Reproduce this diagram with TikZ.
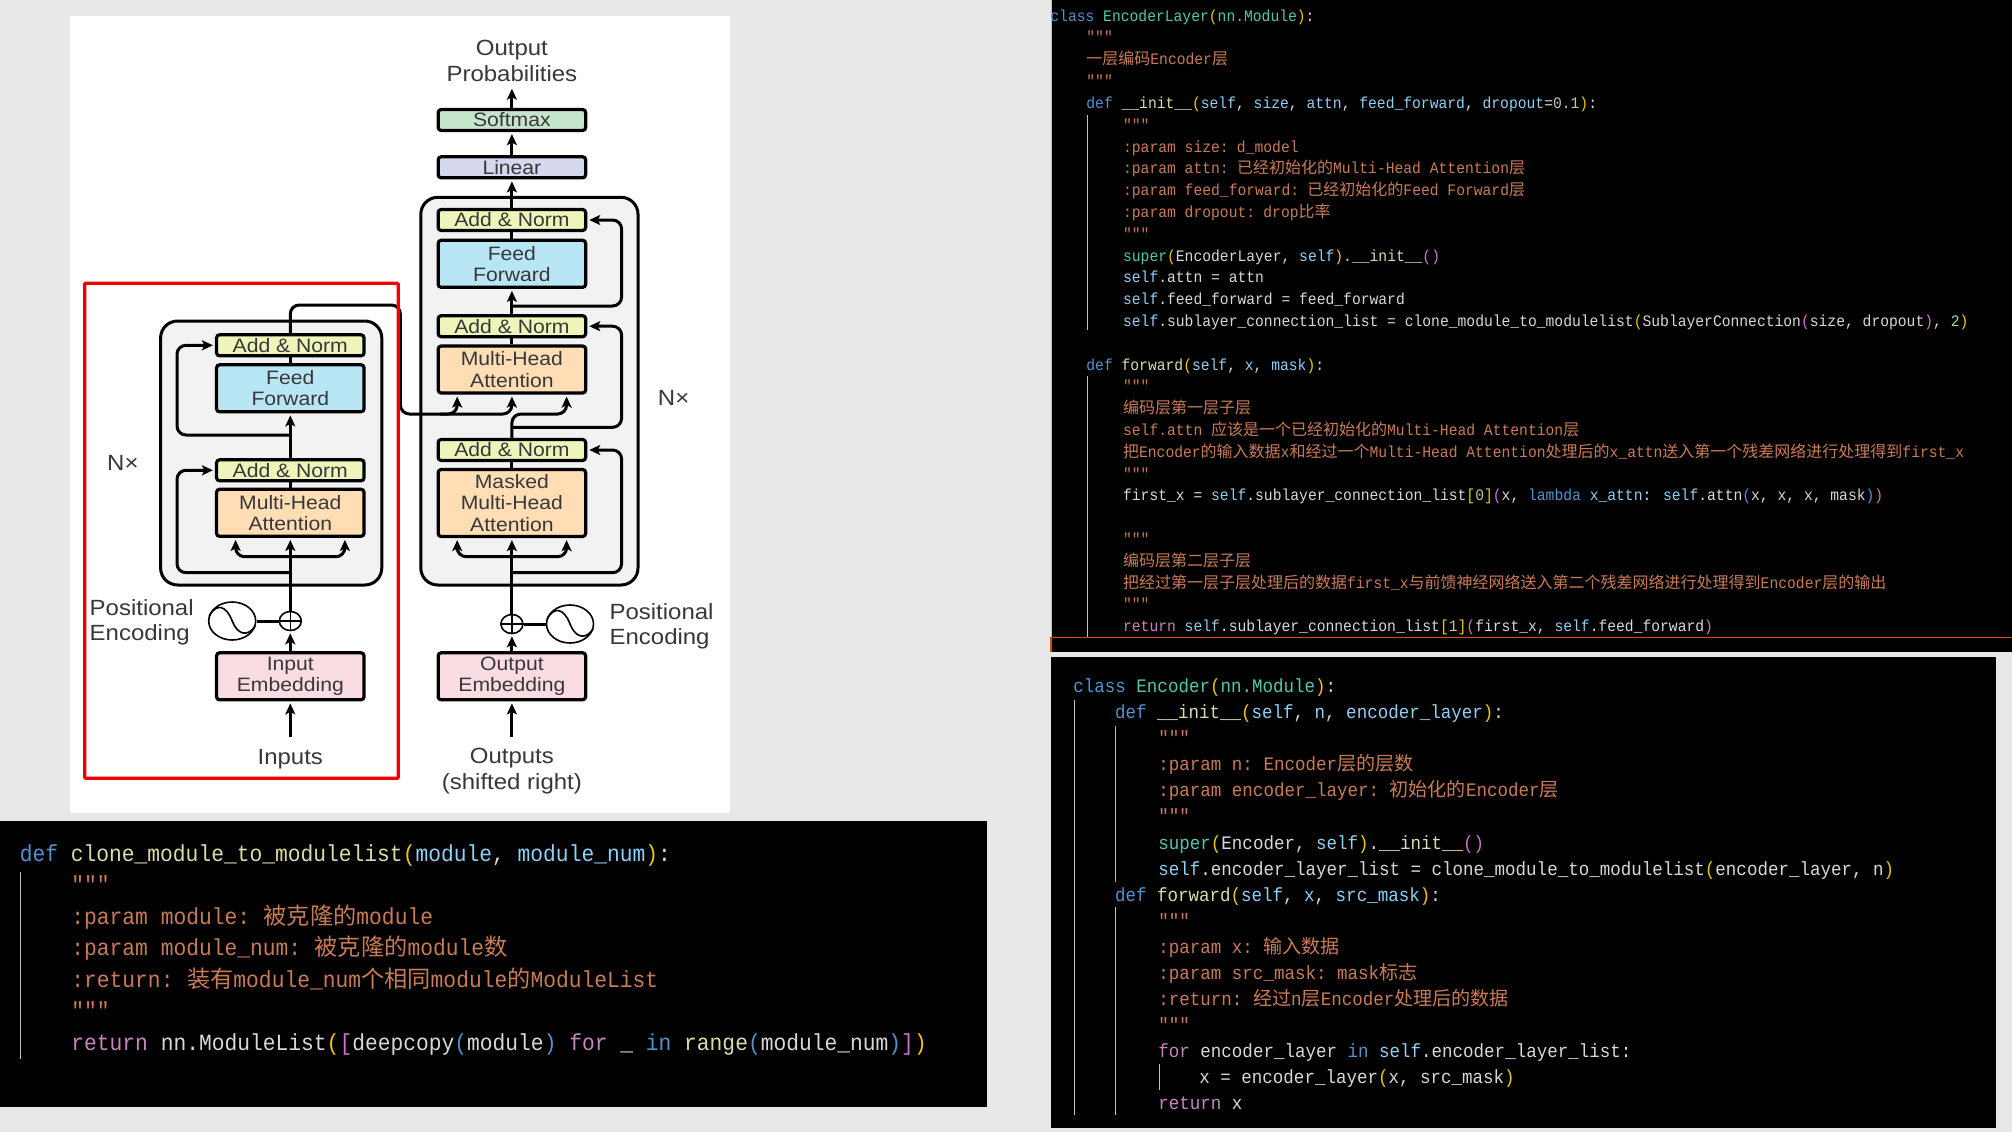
\documentclass[tikz,border=0pt]{standalone}
\usepackage{fontspec}
\usetikzlibrary{arrows.meta,shapes.geometric}
\newfontfamily\labelfont[FakeStretch=1.09]{Liberation Sans}
\newfontfamily\codefont[FakeStretch=0.917]{Liberation Mono}
\newfontfamily\cjkfont{Noto Sans CJK SC}
\definecolor{pagebg}{HTML}{E8E8E8}
\definecolor{codetext}{HTML}{D8D8D8}
\definecolor{kwblue}{HTML}{4F93CE}
\definecolor{fnyellow}{HTML}{DCDCAA}
\definecolor{paramblue}{HTML}{8FD0F5}
\definecolor{docorange}{HTML}{C97B57}
\definecolor{ctlpink}{HTML}{C586C0}
\definecolor{typegreen}{HTML}{4EC9B0}
\definecolor{gold}{HTML}{F0C800}
\definecolor{orchid}{HTML}{D070D0}
\definecolor{numgreen}{HTML}{B5CEA8}
\definecolor{softmaxfill}{HTML}{C6E5CD}
\definecolor{linearfill}{HTML}{D6D8EE}
\definecolor{addnormfill}{HTML}{EFF5BA}
\definecolor{feedfill}{HTML}{B8E6F5}
\definecolor{attnfill}{HTML}{FFDDB5}
\definecolor{embedfill}{HTML}{FADCE3}
\definecolor{stackfill}{HTML}{F2F2F3}
\newcommand\Kw[1]{\textcolor{kwblue}{#1}}
\newcommand\Fn[1]{\textcolor{fnyellow}{#1}}
\newcommand\Pm[1]{\textcolor{paramblue}{#1}}
\newcommand\Dc[1]{\textcolor{docorange}{#1}}
\newcommand\Ct[1]{\textcolor{ctlpink}{#1}}
\newcommand\Ty[1]{\textcolor{typegreen}{#1}}
\newcommand\Go[1]{\textcolor{gold}{#1}}
\newcommand\Or[1]{\textcolor{orchid}{#1}}
\newcommand\Nm[1]{\textcolor{numgreen}{#1}}
\newcommand\Zh[1]{{\cjkfont #1}}
% tightens the gap after the colon of a docstring field
\newcommand\Fld{\kern-3.5pt\relax}
\tikzset{
  blockbox/.style={draw=black,line width=3.2pt,rounded corners=3pt,minimum width=147.5pt,inner sep=0pt,align=center,
    text=black!78,font=\labelfont\fontsize{19.4}{21.3}\selectfont},
  stackbox/.style={draw=black,line width=3pt,rounded corners=17pt,fill=stackfill},
  caption/.style={inner sep=0pt,align=center,text=black!78,font=\labelfont\fontsize{22}{25.2}\selectfont},
  conn/.style={draw=black,line width=3pt,rounded corners=9pt},
  tipped/.style={conn,-{Stealth[length=11pt,width=10pt,inset=2.5pt]},shorten >=2pt},
  bothtip/.style={conn,{Stealth[length=11pt,width=10pt,inset=2.5pt]}-{Stealth[length=11pt,width=10pt,inset=2.5pt]},shorten >=2pt,shorten <=2pt},
  addcircle/.style={ellipse,draw=black,line width=1.6pt,fill=white,minimum width=22pt,minimum height=19pt,inner sep=0pt},
  wavecircle/.style={ellipse,draw=black,line width=1.6pt,fill=white,minimum width=47pt,minimum height=38pt,inner sep=0pt},
  guide/.style={draw=white!75!black,line width=1pt},
  codeline/.style={anchor=west,inner sep=0pt,text=codetext,xshift=-0.8pt,yshift=-1.2pt},
  codesw/.style={codeline,text height=16.2pt,text depth=4.6pt,font=\codefont\fontsize{23.2}{23.2}\selectfont},
  codene/.style={codeline,text height=11.2pt,text depth=3.2pt,font=\codefont\fontsize{16}{16}\selectfont},
  codese/.style={codeline,text height=13.4pt,text depth=3.8pt,font=\codefont\fontsize{19.1}{19.1}\selectfont},
}
\begin{document}
\begin{tikzpicture}[x=1pt,y=-1pt]
\useasboundingbox (0,0) rectangle (2012,1132);
\fill[pagebg] (0,0) rectangle (2012,1132);
\fill[white] (69.5,15.7) rectangle (730.4,812.7);

% stacks behind the blocks
\draw[stackbox] (160.6,321) rectangle (381.8,585);
\draw[stackbox] (420.8,197.3) rectangle (638,585);

% decoder blocks
\node[blockbox,fill=softmaxfill,minimum height=21pt] (softmax) at (511.9,120) {Softmax};
\node[blockbox,fill=linearfill,minimum height=21pt] (linear) at (511.9,167.3) {Linear};
\node[blockbox,fill=addnormfill,minimum height=21pt] (dan1) at (511.9,220) {Add \& Norm};
\node[blockbox,fill=feedfill,minimum height=47pt] (dff) at (511.9,263.8) {Feed\\Forward};
\node[blockbox,fill=addnormfill,minimum height=21pt] (dan2) at (511.9,326.2) {Add \& Norm};
\node[blockbox,fill=attnfill,minimum height=47pt] (dmh) at (511.9,369.5) {Multi-Head\\Attention};
\node[blockbox,fill=addnormfill,minimum height=21pt] (dan3) at (511.9,450) {Add \& Norm};
\node[blockbox,fill=attnfill,minimum height=67pt] (dmask) at (511.9,503) {Masked\\Multi-Head\\Attention};
\node[blockbox,fill=embedfill,minimum height=47pt] (oemb) at (511.9,676.3) {Output\\Embedding};

% encoder blocks
\node[blockbox,fill=addnormfill,minimum height=21pt] (ean1) at (290.3,345.3) {Add \& Norm};
\node[blockbox,fill=feedfill,minimum height=47pt] (eff) at (290.3,388.3) {Feed\\Forward};
\node[blockbox,fill=addnormfill,minimum height=21pt] (ean2) at (290.3,470.3) {Add \& Norm};
\node[blockbox,fill=attnfill,minimum height=47pt] (emh) at (290.3,512.8) {Multi-Head\\Attention};
\node[blockbox,fill=embedfill,minimum height=47pt] (iemb) at (290.3,676.3) {Input\\Embedding};

% captions
\node[caption] (outprob) at (511.9,61) {Output\\Probabilities};
\node[caption] (inputs) at (290.3,759) {Inputs};
\node[caption] (outputs) at (511.9,771) {Outputs\\(shifted right)};
\node[caption] (nxleft) at (122.9,462.7) {N×};
\node[caption] (nxright) at (673.6,398.3) {N×};
\node[caption,anchor=west,align=left] (peleft) at (89.5,622) {Positional\\Encoding};
\node[caption,anchor=west,align=left] (peright) at (609.4,626) {Positional\\Encoding};

% positional encoding: adders and wave symbols
\node[addcircle] (eplus) at (290.3,621) {};
\node[wavecircle] (ewave) at (232.2,621) {};
\node[addcircle] (dplus) at (511.9,624) {};
\node[wavecircle] (dwave) at (570,624) {};
\foreach \adder in {eplus,dplus}{
  \draw[line width=1.6pt] (\adder.north) -- (\adder.south) (\adder.west) -- (\adder.east);
}
\foreach \wave in {ewave,dwave}{
  \begin{scope}[shift={(\wave.center)}]
    \draw[line width=1.6pt] (-23,-5) .. controls (-16,-18) and (-6,-16) .. (0,0)
      .. controls (5,13) and (15,17) .. (23,5);
  \end{scope}
}
\draw[line width=3pt] (ewave) -- (eplus);
\draw[line width=3pt] (dwave) -- (dplus);

% named points used by the connectors
\coordinate (inend) at (290.3,737.3);
\coordinate (outend) at (511.9,737.3);
\coordinate (probtip) at (511.9,86.7);
\coordinate (ekl) at (235.6,0);
\coordinate (ekr) at (344.9,0);
\coordinate (eu) at (0,556.7);
\coordinate (dkl) at (457.2,0);
\coordinate (dkr) at (566.6,0);
\coordinate (erail) at (177,0);
\coordinate (drail) at (621.6,0);
\coordinate (dtap1) at (511.9,306);
\coordinate (dtap2) at (511.9,427.3);
\coordinate (dtap3) at (511.9,572.7);
\coordinate (etap1) at (290.3,435);
\coordinate (etap2) at (290.3,572.7);
\coordinate (crossup) at (400.4,305);
\coordinate (crossdn) at (400.4,414);
\coordinate (crossmid) at (440,414);

% vertical flow
\draw[tipped] (softmax.north) -- (probtip);
\draw[tipped] (linear.north) -- (softmax.south);
\draw[tipped] (dan1.north) -- (linear.south);
\draw[conn] (dff.north) -- (dan1.south);
\draw[tipped] (dan2.north) -- (dff.south);
\draw[conn] (dmh.north) -- (dan2.south);
\draw[conn] (dmask.north) -- (dan3.south);
\draw[tipped] (dplus.north) -- (dmask.south);
\draw[tipped] (oemb.north) -- (dplus.south);
\draw[tipped] (outend) -- (oemb.south);
\draw[conn] (eff.north) -- (ean1.south);
\draw[tipped] (ean2.north) -- (eff.south);
\draw[conn] (emh.north) -- (ean2.south);
\draw[tipped] (eplus.north) -- (emh.south);
\draw[tipped] (iemb.north) -- (eplus.south);
\draw[tipped] (inend) -- (iemb.south);

% attention fan-in below the self-attention blocks
\draw[bothtip] (ekl |- emh.south) -- (ekl |- eu) -- (ekr |- eu) -- (ekr |- emh.south);
\draw[bothtip] (dkl |- dmask.south) -- (dkl |- eu) -- (dkr |- eu) -- (dkr |- dmask.south);

% residual connections
\draw[tipped] (dtap1) -- (dtap1 -| drail) -- (drail |- dan1.east) -- (dan1.east);
\draw[tipped] (dtap2) -- (dtap2 -| drail) -- (drail |- dan2.east) -- (dan2.east);
\draw[tipped] (dtap3) -- (dtap3 -| drail) -- (drail |- dan3.east) -- (dan3.east);
\draw[tipped] (etap1) -- (etap1 -| erail) -- (erail |- ean1.west) -- (ean1.west);
\draw[tipped] (etap2) -- (etap2 -| erail) -- (erail |- ean2.west) -- (ean2.west);

% encoder output and shifted target entering the second attention block
\draw[tipped] (ean1.north) -- (ean1.north |- crossup) -- (crossup) -- (crossdn) -- (dmh.south |- crossdn) -- (dmh.south);
\draw[tipped] (crossmid) -- (dkl |- crossmid) -- (dkl |- dmh.south);
\draw[tipped] (dan3.north) -- (dan3.north |- crossdn) -- (dkr |- crossdn) -- (dkr |- dmh.south);

% highlight around the encoder
\draw[red!95!black,line width=3.2pt,rounded corners=1pt] (84.7,283.3) rectangle (398.2,778.3);

% helper listing, lower left
\fill[black] (0,821) rectangle (987.2,1106.7);
\draw[guide] (20.4,871.7) -- (20.4,1059.3);
\node[codesw] (bl0) at (20.4,854.3) {\Kw{def} \Fn{clone\_module\_to\_modulelist}\Go{(}\Pm{module}, \Pm{module\_num}\Go{)}:};
\node[codesw] (bl1) at (72,885.8) {\Dc{"""}};
\node[codesw] (bl2) at (72,917.3) {\Dc{:param module: \Fld\Zh{被克隆的}module}};
\node[codesw] (bl3) at (72,948.8) {\Dc{:param module\_num: \Fld\Zh{被克隆的}module\Zh{数}}};
\node[codesw] (bl4) at (72,980.3) {\Dc{:return: \Fld\Zh{装有}module\_num\Zh{个相同}module\Zh{的}ModuleList}};
\node[codesw] (bl5) at (72,1011.8) {\Dc{"""}};
\node[codesw] (bl6) at (72,1043.3) {\Ct{return} nn.ModuleList\Go{(}\Or{[}deepcopy\Kw{(}module\Kw{)} \Ct{for} \_ \Kw{in} \Fn{range}\Kw{(}module\_num\Kw{)}\Or{]}\Go{)}};

% layer listing, upper right
\fill[black] (1051,0) rectangle (2012,651.7);
\draw[guide] (1087,115) -- (1087,330);
\draw[guide] (1087,376) -- (1087,637.3);
\draw[guide] (1051,0) -- (1051,637);
\draw[orange!70!red!85!black,line width=1.5pt] (1051,651.7) -- (1051,637.7) -- (2012,637.7);
\node[codene] (tr0) at (1051,16) {\Kw{class} \Ty{EncoderLayer}\Go{(}\Ty{nn.Module}\Go{)}:};
\node[codene] (tr1) at (1087,37.8) {\Dc{"""}};
\node[codene] (tr2) at (1087,59.6) {\Dc{\Zh{一层编码}Encoder\Zh{层}}};
\node[codene] (tr3) at (1087,81.4) {\Dc{"""}};
\node[codene] (tr4) at (1087,103.2) {\Kw{def} \Fn{\_\_init\_\_}\Go{(}\Pm{self}, \Pm{size}, \Pm{attn}, \Pm{feed\_forward}, \Pm{dropout}=\Nm{0.1}\Go{)}:};
\node[codene] (tr5) at (1123.7,125) {\Dc{"""}};
\node[codene] (tr6) at (1123.7,146.8) {\Dc{:param size: \Fld d\_model}};
\node[codene] (tr7) at (1123.7,168.6) {\Dc{:param attn: \Fld\Zh{已经初始化的}Multi-Head Attention\Zh{层}}};
\node[codene] (tr8) at (1123.7,190.4) {\Dc{:param feed\_forward: \Fld\Zh{已经初始化的}Feed Forward\Zh{层}}};
\node[codene] (tr9) at (1123.7,212.2) {\Dc{:param dropout: \Fld drop\Zh{比率}}};
\node[codene] (tr10) at (1123.7,234) {\Dc{"""}};
\node[codene] (tr11) at (1123.7,255.8) {\Ty{super}\Go{(}EncoderLayer, \Pm{self}\Go{)}.\Fn{\_\_init\_\_}\Or{()}};
\node[codene] (tr12) at (1123.7,277.6) {\Pm{self}.attn = attn};
\node[codene] (tr13) at (1123.7,299.4) {\Pm{self}.feed\_forward = feed\_forward};
\node[codene] (tr14) at (1123.7,321.2) {\Pm{self}.sublayer\_connection\_list = clone\_module\_to\_modulelist\Go{(}SublayerConnection\Or{(}size, dropout\Or{)}, \Nm{2}\Go{)}};
\node[codene] (tr16) at (1087,364.8) {\Kw{def} \Fn{forward}\Go{(}\Pm{self}, \Pm{x}, \Pm{mask}\Go{)}:};
\node[codene] (tr17) at (1123.7,386.6) {\Dc{"""}};
\node[codene] (tr18) at (1123.7,408.4) {\Dc{\Zh{编码层第一层子层}}};
\node[codene] (tr19) at (1123.7,430.2) {\Dc{self.attn \Zh{应该是一个已经初始化的}Multi-Head Attention\Zh{层}}};
\node[codene] (tr20) at (1123.7,452) {\Dc{\Zh{把}Encoder\Zh{的输入数据}x\Zh{和经过一个}Multi-Head Attention\Zh{处理后的}x\_attn\Zh{送入第一个残差网络进行处理得到}first\_x}};
\node[codene] (tr21) at (1123.7,473.8) {\Dc{"""}};
\node[codene] (tr22) at (1123.7,495.6) {first\_x = \Pm{self}.sublayer\_connection\_list\Go{[}\Nm{0}\Go{]}\Or{(}x, \Kw{lambda} \Pm{x\_attn}: \Pm{self}.attn\Kw{(}x, x, x, mask\Kw{)}\Or{)}};
\node[codene] (tr24) at (1123.7,539.2) {\Dc{"""}};
\node[codene] (tr25) at (1123.7,561) {\Dc{\Zh{编码层第二层子层}}};
\node[codene] (tr26) at (1123.7,582.8) {\Dc{\Zh{把经过第一层子层处理后的数据}first\_x\Zh{与前馈神经网络送入第二个残差网络进行处理得到}Encoder\Zh{层的输出}}};
\node[codene] (tr27) at (1123.7,604.6) {\Dc{"""}};
\node[codene] (tr28) at (1123.7,626.4) {\Ct{return} \Pm{self}.sublayer\_connection\_list\Go{[}\Nm{1}\Go{]}\Or{(}first\_x, \Pm{self}.feed\_forward\Or{)}};

% stack listing, lower right
\fill[black] (1051,656.7) rectangle (1996,1128);
\draw[guide] (1074,700) -- (1074,1115);
\draw[guide] (1115.6,726) -- (1115.6,881.7);
\draw[guide] (1115.6,907) -- (1115.6,1115);
\draw[guide] (1159,1064) -- (1159,1090);
\node[codese] (br0) at (1074,686.7) {\Kw{class} \Ty{Encoder}\Go{(}\Ty{nn.Module}\Go{)}:};
\node[codese] (br1) at (1115.6,712.7) {\Kw{def} \Fn{\_\_init\_\_}\Go{(}\Pm{self}, \Pm{n}, \Pm{encoder\_layer}\Go{)}:};
\node[codese] (br2) at (1159,738.8) {\Dc{"""}};
\node[codese] (br3) at (1159,764.8) {\Dc{:param n: \Fld Encoder\Zh{层的层数}}};
\node[codese] (br4) at (1159,790.9) {\Dc{:param encoder\_layer: \Fld\Zh{初始化的}Encoder\Zh{层}}};
\node[codese] (br5) at (1159,816.9) {\Dc{"""}};
\node[codese] (br6) at (1159,843) {\Ty{super}\Go{(}Encoder, \Pm{self}\Go{)}.\Fn{\_\_init\_\_}\Or{()}};
\node[codese] (br7) at (1159,869) {\Pm{self}.encoder\_layer\_list = clone\_module\_to\_modulelist\Go{(}encoder\_layer, n\Go{)}};
\node[codese] (br8) at (1115.6,895.1) {\Kw{def} \Fn{forward}\Go{(}\Pm{self}, \Pm{x}, \Pm{src\_mask}\Go{)}:};
\node[codese] (br9) at (1159,921.1) {\Dc{"""}};
\node[codese] (br10) at (1159,947.2) {\Dc{:param x: \Fld\Zh{输入数据}}};
\node[codese] (br11) at (1159,973.2) {\Dc{:param src\_mask: \Fld mask\Zh{标志}}};
\node[codese] (br12) at (1159,999.3) {\Dc{:return: \Fld\Zh{经过}n\Zh{层}Encoder\Zh{处理后的数据}}};
\node[codese] (br13) at (1159,1025.3) {\Dc{"""}};
\node[codese] (br14) at (1159,1051.4) {\Ct{for} encoder\_layer \Kw{in} \Pm{self}.encoder\_layer\_list:};
\node[codese] (br15) at (1200,1077.4) {x = encoder\_layer\Go{(}x, src\_mask\Go{)}};
\node[codese] (br16) at (1159,1103.5) {\Ct{return} x};
\end{tikzpicture}
\end{document}
